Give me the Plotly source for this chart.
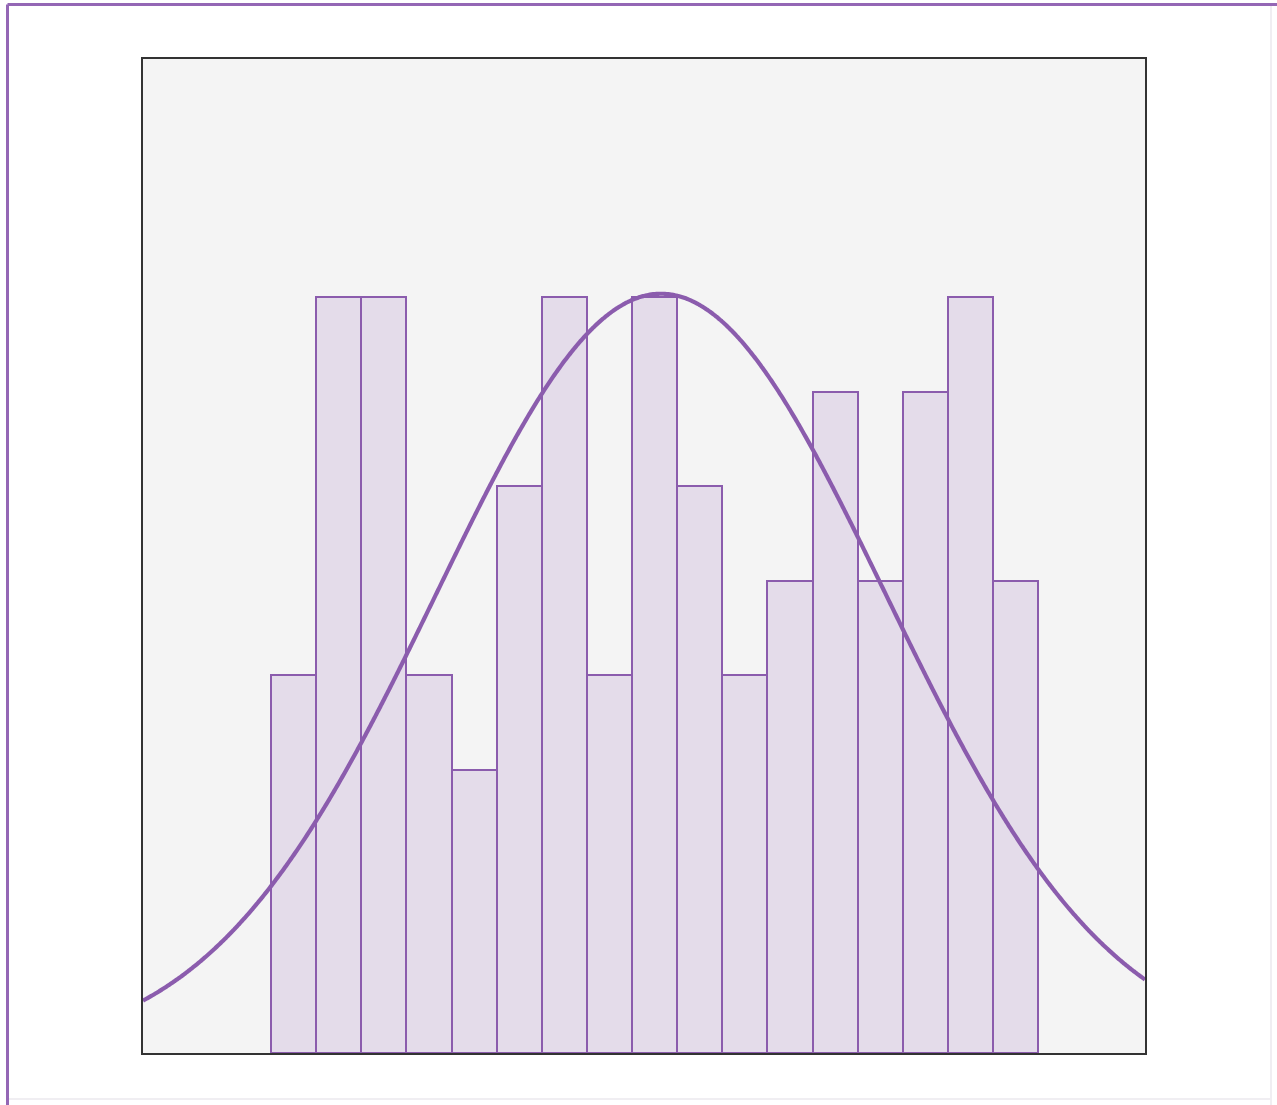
import numpy as np
import plotly.graph_objects as go

# Histogram counts per bin (unit-width bins starting at 0)
bin_start = 0.0
bin_width = 1.0
counts = [4, 8, 8, 4, 3, 6, 8, 4, 8, 6, 4, 5, 7, 5, 7, 8, 5]

# Visible x window and y window
x_range = [-2.84, 19.37]
y_range = [0, 10.52]

PURPLE = "#8b5cad"
FILL = "#e4dcea"

counts_arr = np.array(counts, dtype=float)
centers = bin_start + bin_width * (np.arange(len(counts)) + 0.5)

# Normal fit from the binned counts, scaled to count units
n = counts_arr.sum()
mean = float((counts_arr * centers).sum() / n)
std = float(np.sqrt((counts_arr * (centers - mean) ** 2).sum() / (n - 1)))
xs = np.linspace(x_range[0], x_range[1], 600)
ys = n * bin_width * np.exp(-0.5 * ((xs - mean) / std) ** 2) / (std * np.sqrt(2 * np.pi))

fig = go.Figure()
fig.add_trace(go.Bar(
    x=centers, y=counts, width=bin_width,
    marker=dict(color=FILL, line=dict(color=PURPLE, width=2)),
    hoverinfo="skip", showlegend=False,
))
fig.add_trace(go.Scatter(
    x=xs, y=ys, mode="lines",
    line=dict(color=PURPLE, width=4.2, shape="spline", simplify=False),
    hoverinfo="skip", showlegend=False,
))

W, H = 1277, 1105
L, R, T, B = 143, 132, 59, 52
pw, ph = W - L - R, H - T - B


def px(x):
    return (x - L) / pw


def py(y):
    return (H - B - y) / ph


shapes = [
    # outer frame: purple top/left, faint right/bottom
    dict(type="line", xref="paper", yref="paper", x0=px(7.5), x1=px(1280), y0=py(4.5), y1=py(4.5),
         line=dict(color="#9467b5", width=3)),
    dict(type="line", xref="paper", yref="paper", x0=px(7.5), x1=px(7.5), y0=py(4.5), y1=py(1110),
         line=dict(color="#9467b5", width=3)),
    dict(type="line", xref="paper", yref="paper", x0=px(1271), x1=px(1271), y0=py(6), y1=py(1110),
         line=dict(color="#f0eef2", width=2)),
    dict(type="line", xref="paper", yref="paper", x0=px(9), x1=px(1271), y0=py(1099), y1=py(1099),
         line=dict(color="#f0eef2", width=2)),
]

fig.update_layout(
    width=W, height=H,
    margin=dict(l=L, r=R, t=T, b=B),
    paper_bgcolor="white",
    plot_bgcolor="#f4f4f4",
    bargap=0,
    shapes=shapes,
    xaxis=dict(range=x_range, showgrid=False, zeroline=False, showticklabels=False, ticks="",
               showline=True, mirror=True, linecolor="#333333", linewidth=2),
    yaxis=dict(range=y_range, showgrid=False, zeroline=False, showticklabels=False, ticks="",
               showline=True, mirror=True, linecolor="#333333", linewidth=2),
)

fig.write_html("out.html")
